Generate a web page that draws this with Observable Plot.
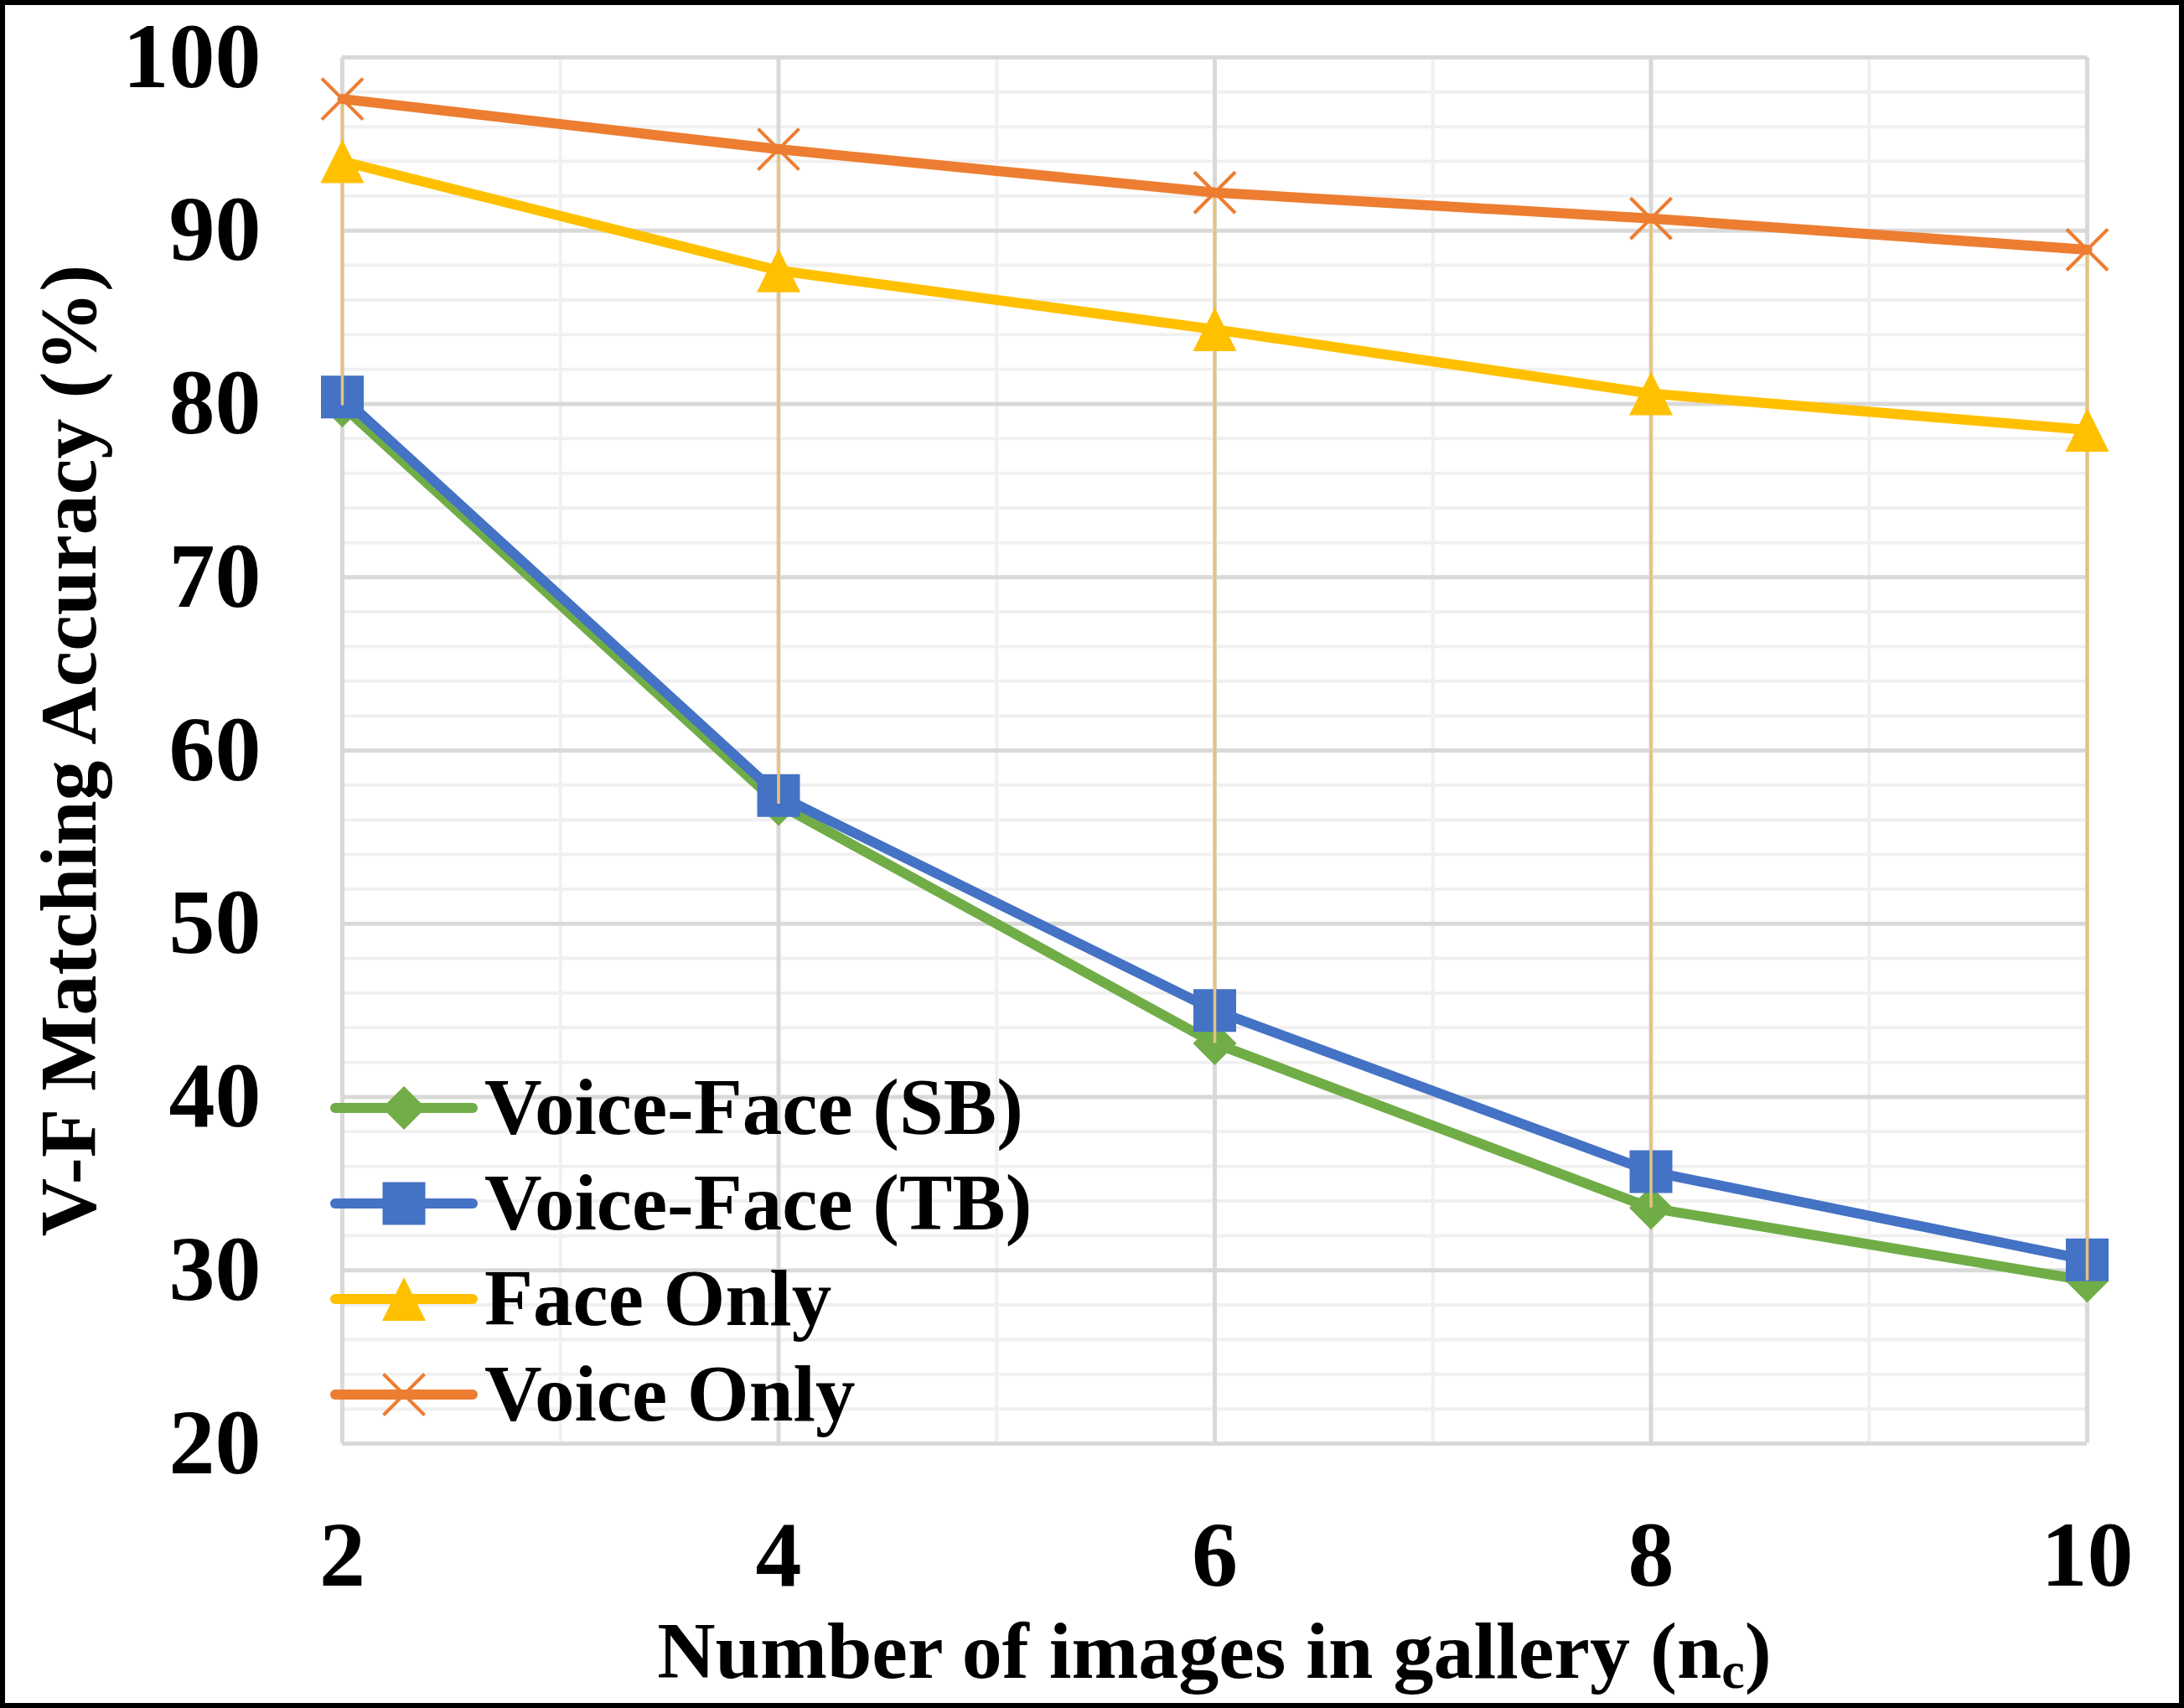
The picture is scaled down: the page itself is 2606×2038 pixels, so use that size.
<!DOCTYPE html>
<html><head><meta charset="utf-8">
<script src="https://cdn.jsdelivr.net/npm/d3@7"></script>
<script src="https://cdn.jsdelivr.net/npm/@observablehq/plot@0.6"></script>
<style>
html,body{margin:0;padding:0;background:#fff;}
#wrap{width:2606px;height:2038px;box-sizing:border-box;border:6px solid #000;position:relative;overflow:hidden;background:#fff;}
</style></head><body><div id="wrap"></div>
<script>
// ---- data ----
const xValues = [2, 4, 6, 8, 10];
const seriesNames = ["Voice-Face (SB)", "Voice-Face (TB)", "Face Only", "Voice Only"];
const sbValues = [79.9, 56.9, 43.1, 33.6, 29.4];
const tbValues = [80.4, 57.4, 45.0, 35.7, 30.6];
const faceValues = [94.0, 87.7, 84.3, 80.6, 78.5];
const voiceValues = [97.6, 94.7, 92.2, 90.7, 88.9];
const seriesColors = ["#70AD47", "#4472C4", "#FFC000", "#ED7D31"];
const xTicks = [2, 4, 6, 8, 10];
const xMinorTicks = [3, 5, 7, 9];
const yTicks = [20, 30, 40, 50, 60, 70, 80, 90, 100];
const yMinorTicks = [22,24,26,28,32,34,36,38,42,44,46,48,52,54,56,58,62,64,66,68,72,74,76,78,82,84,86,88,92,94,96,98];
const xTitle = "Number of images in gallery (n";
const xTitleSub = "c";
const yTitle = "V-F Matching Accuracy (%)";

// ---- symbols ----
const rad = (size) => Math.sqrt(size / Math.PI);
const symSquare = {draw(c, s){const r = rad(s); c.moveTo(-r,-r); c.lineTo(r,-r); c.lineTo(r,r); c.lineTo(-r,r); c.closePath();}};
const symDiamond = {draw(c, s){const r = rad(s); c.moveTo(0,-r); c.lineTo(r,0); c.lineTo(0,r); c.lineTo(-r,0); c.closePath();}};
const symTriangle = {draw(c, s){const r = rad(s); c.moveTo(0,-r); c.lineTo(r,r); c.lineTo(-r,r); c.closePath();}};
const symTimes = {draw(c, s){const r = rad(s); c.moveTo(-r,-r); c.lineTo(r,r); c.moveTo(-r,r); c.lineTo(r,-r);}};

const seriesValues = [sbValues, tbValues, faceValues, voiceValues];
const symbols = [symDiamond, symSquare, symTriangle, symTimes];
const symR = [26, 25.5, 26, 24.5];
const series = seriesNames.map((name, k) => ({
  name, color: seriesColors[k], symbol: symbols[k], r: symR[k],
  data: xValues.map((x, i) => ({x, y: seriesValues[k][i]}))
}));
const hilo = xValues.map((x, i) => {
  const vs = seriesValues.map(s => s[i]);
  return {x, lo: Math.min(...vs), hi: Math.max(...vs)};
});

const FONT = "'Liberation Serif', 'Times New Roman', serif";
const W = 2594, H = 2026;
const mL = 402, mR = 110, mT = 62, mB = 310;

function seriesMarks(s) {
  const stroke = s.symbol === symTimes;
  return [
    Plot.line(s.data, {x: "x", y: "y", stroke: s.color, strokeWidth: 12, strokeLinejoin: "round", strokeLinecap: "round"}),
    Plot.dot(s.data, {x: "x", y: "y", symbol: s.symbol, r: s.r,
      fill: stroke ? "none" : s.color, stroke: stroke ? s.color : "none", strokeWidth: stroke ? 4 : 0})
  ];
}

const chart = Plot.plot({
  width: W, height: H,
  marginLeft: mL, marginRight: mR, marginTop: mT, marginBottom: mB,
  style: {fontFamily: FONT, background: "#fff", color: "#000"},
  x: {domain: [2, 10], label: null},
  y: {domain: [20, 100], label: null},
  marks: [
    Plot.gridY(yMinorTicks, {stroke: "#f0f0f0", strokeOpacity: 1, strokeWidth: 4}),
    Plot.gridX(xMinorTicks, {stroke: "#f0f0f0", strokeOpacity: 1, strokeWidth: 4}),
    Plot.gridY(yTicks, {stroke: "#d9d9d9", strokeOpacity: 1, strokeWidth: 5}),
    Plot.gridX(xTicks, {stroke: "#d9d9d9", strokeOpacity: 1, strokeWidth: 5}),
    Plot.axisY(yTicks, {tickSize: 0, tickPadding: 97, fontSize: 110, fontWeight: "bold", fill: "#000", fontFamily: FONT, tickFormat: (d) => String(d)}),
    Plot.axisX(xTicks, {tickSize: 0, tickPadding: 91, fontSize: 110, fontWeight: "bold", fill: "#000", fontFamily: FONT, tickFormat: (d) => String(d)}),
    ...seriesMarks(series[0]),
    ...seriesMarks(series[1]),
    Plot.ruleX(hilo, {x: "x", y1: "lo", y2: "hi", stroke: "#E6C37C", strokeWidth: 3.5}),
    ...seriesMarks(series[2]),
    ...seriesMarks(series[3]),
    Plot.text([yTitle], {frameAnchor: "left", dx: -325, rotate: -90, textAnchor: "middle",
      fontSize: 96, fontWeight: "bold", fill: "#000", fontFamily: FONT})
  ]
});

// x-axis title with subscript
const svg = d3.select(chart);
const xt = svg.append("text")
  .attr("x", mL + (W - mL - mR) / 2).attr("y", 1996)
  .attr("text-anchor", "middle").attr("font-family", FONT)
  .attr("font-weight", "bold").attr("font-size", 96).attr("fill", "#000");
xt.append("tspan").text(xTitle);
xt.append("tspan").attr("font-size", 62).attr("dy", 12).text(xTitleSub);
xt.append("tspan").attr("font-size", 96).attr("dy", -12).text(")");

// legend (inside plot, bottom-left)
const lg = svg.append("g");
series.forEach((s, i) => {
  const cy = 1316 + i * 114;
  const g = lg.append("g").attr("transform", `translate(0,${cy})`);
  g.append("line").attr("x1", 394).attr("x2", 558).attr("y1", 0).attr("y2", 0)
    .attr("stroke", s.color).attr("stroke-width", 12).attr("stroke-linecap", "round");
  const isX = s.symbol === symTimes;
  g.append("path").attr("transform", "translate(476,0)")
    .attr("d", d3.symbol(s.symbol, s.r * s.r * Math.PI)())
    .attr("fill", isX ? "none" : s.color).attr("stroke", isX ? s.color : "none").attr("stroke-width", isX ? 4 : 0);
  g.append("text").attr("x", 572).attr("y", 31).attr("text-anchor", "start")
    .attr("font-family", FONT).attr("font-weight", "bold").attr("font-size", 95).attr("fill", "#000")
    .text(s.name);
});

document.getElementById("wrap").appendChild(chart);
</script>
</body></html>
